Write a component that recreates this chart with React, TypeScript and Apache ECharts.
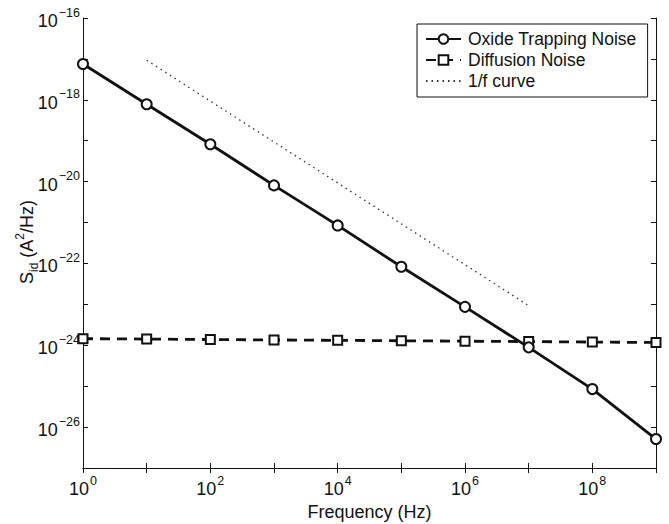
import React, { useEffect, useRef } from "react";
import * as echarts from "echarts";

const frequencies = [1, 1e1, 1e2, 1e3, 1e4, 1e5, 1e6, 1e7, 1e8, 1e9];
const oxideNoise = [7.5e-18, 7.8e-19, 8.2e-20, 8.1e-21, 8.5e-22, 8.3e-23, 8.7e-24, 8.9e-25, 8.5e-26, 5.1e-27];
const diffusionNoise = [1.45e-24, 1.42e-24, 1.38e-24, 1.35e-24, 1.32e-24, 1.29e-24, 1.26e-24, 1.23e-24, 1.2e-24, 1.17e-24];
const oneOverFFreq = [1e1, 1e2, 1e3, 1e4, 1e5, 1e6, 1e7];
const oneOverFValues = [9.3e-18, 9.3e-19, 9.3e-20, 9.3e-21, 9.3e-22, 9.3e-23, 9.3e-24];
const seriesNames = ["Oxide Trapping Noise", "Diffusion Noise", "1/f curve"];
const xTitle = "Frequency (Hz)";
const yTitle = "{m|S}{sub|id}{m| (A}{sup|2}{m|/Hz)}";

const FONT = "Liberation Sans, Arial, Helvetica, sans-serif";
const INK = "#111";

const supLabel = (v: number) => {
  const e = Math.round(Math.log10(v));
  if (e % 2 !== 0) return "";
  const s = e < 0 ? "\u2212" + Math.abs(e) : String(e);
  return `{b|10}{s|${s}}`;
};

const labelRich = {
  b: { fontSize: 18, fontFamily: FONT, color: INK, lineHeight: 24, verticalAlign: "bottom" },
  s: { fontSize: 12.5, fontFamily: FONT, color: INK, lineHeight: 24, verticalAlign: "top", padding: [0, 0, 0, 1] },
};

export default function App() {
  const ref = useRef<HTMLDivElement>(null);
  useEffect(() => {
    if (!ref.current) return;
    const chart = echarts.init(ref.current, null, { renderer: "svg" });
    const zip = (xs: number[], ys: number[]) => xs.map((x, i) => [x, ys[i]]);
    const axisCommon = {
      type: "log" as const,
      logBase: 10,
      axisLine: { show: true, lineStyle: { color: INK, width: 1 } },
      axisTick: { show: true, inside: true, length: 5, lineStyle: { color: INK } },
      splitLine: { show: false },
      minorTick: { show: false },
    };
    chart.setOption({
      animation: false,
      backgroundColor: "#fff",
      grid: { left: 83, right: 13, top: 18, bottom: 56, containLabel: false, outerBoundsMode: "none" },
      xAxis: [
        {
          ...axisCommon,
          min: 1,
          max: 1e9,
          splitNumber: 9,
          position: "bottom",
          name: xTitle,
          nameLocation: "middle",
          nameGap: 33,
          nameTextStyle: { fontSize: 18, fontFamily: FONT, color: INK },
          axisLabel: { formatter: supLabel, rich: labelRich, margin: 6, showMinLabel: true, showMaxLabel: true },
        },
        {
          ...axisCommon,
          min: 1,
          max: 1e9,
          splitNumber: 9,
          position: "top",
          axisLabel: { show: false },
        },
      ],
      yAxis: [
        {
          ...axisCommon,
          min: 1e-27,
          max: 1e-16,
          interval: 1,
          position: "left",
          axisLabel: { formatter: supLabel, rich: labelRich, margin: 3, showMinLabel: true, showMaxLabel: true },
        },
        {
          ...axisCommon,
          min: 1e-27,
          max: 1e-16,
          interval: 1,
          position: "right",
          axisLabel: { show: false },
        },
      ],
      graphic: [
        {
          type: "text",
          x: 27,
          y: 242,
          rotation: Math.PI / 2,
          style: {
            text: yTitle,
            align: "center",
            verticalAlign: "middle",
            rich: {
              m: { fontSize: 18, fontFamily: FONT, fill: INK, lineHeight: 26, verticalAlign: "middle" },
              sub: { fontSize: 12, fontFamily: FONT, fill: INK, lineHeight: 26, verticalAlign: "bottom" },
              sup: { fontSize: 12, fontFamily: FONT, fill: INK, lineHeight: 26, verticalAlign: "top" },
            },
          },
        },
      ],
      legend: {
        orient: "vertical",
        left: 417,
        top: 24,
        data: [
          { name: seriesNames[0] },
          { name: seriesNames[1] },
          { name: seriesNames[2], itemStyle: { color: "transparent", borderColor: "transparent", borderWidth: 0 } },
        ],
        backgroundColor: "#fff",
        borderColor: INK,
        borderWidth: 1,
        padding: [6, 11, 7, 8],
        itemGap: 3,
        itemWidth: 35,
        itemHeight: 12,
        textStyle: { fontSize: 17.5, fontFamily: FONT, color: INK, padding: [0, 0, 0, 2] },
      },
      series: [
        {
          name: seriesNames[0],
          type: "line",
          xAxisIndex: 0,
          yAxisIndex: 0,
          data: zip(frequencies, oxideNoise),
          symbol: "emptyCircle",
          symbolSize: 10,
          color: INK,
          lineStyle: { color: INK, width: 2.8 },
          itemStyle: { color: INK, borderColor: INK, borderWidth: 2.5 },
          z: 3,
        },
        {
          name: seriesNames[1],
          type: "line",
          xAxisIndex: 0,
          yAxisIndex: 0,
          data: zip(frequencies, diffusionNoise),
          symbol: "emptyRect",
          symbolSize: 9,
          color: INK,
          lineStyle: { color: INK, width: 2.8, type: [10, 7] },
          itemStyle: { color: INK, borderColor: INK, borderWidth: 2.5 },
          z: 2,
        },
        {
          name: seriesNames[2],
          type: "line",
          xAxisIndex: 0,
          yAxisIndex: 0,
          data: zip(oneOverFFreq, oneOverFValues),
          symbol: "none",
          color: "#333",
          lineStyle: { color: "#333", width: 1.3, type: [1.5, 4] },
          z: 1,
        },
      ],
    });
    return () => chart.dispose();
  }, []);
  return <div ref={ref} style={{ position: "fixed", left: 0, top: 0, width: 669, height: 524 }} />;
}
